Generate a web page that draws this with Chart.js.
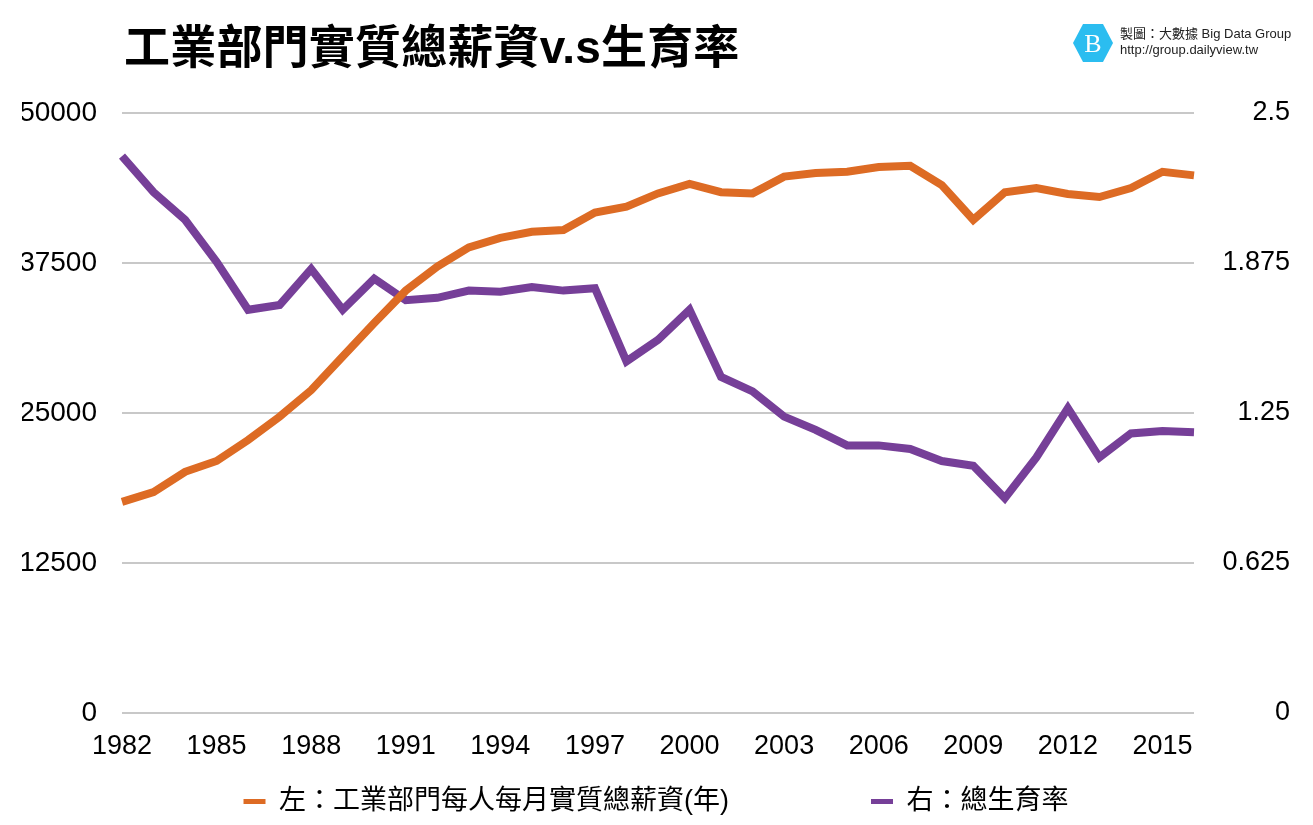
<!DOCTYPE html>
<html>
<head>
<meta charset="utf-8">
<script src="https://cdn.jsdelivr.net/npm/chart.js@4.4.1/dist/chart.umd.min.js"></script>
<style>
  html, body { margin: 0; padding: 0; background: #fff; }
  #wrap { position: relative; width: 1313px; height: 825px; }
  #title {
    position: absolute; left: 124px; top: 10px;
    font-family: 'Liberation Sans', 'Noto Sans CJK TC', sans-serif;
    font-weight: bold; font-size: 46px; letter-spacing: 0.2px; color: #000; white-space: nowrap;
  }
  #logo { position: absolute; left: 1072px; top: 23px; }
  #credit {
    position: absolute; left: 1120px; top: 26px;
    font-family: 'Liberation Sans', 'Noto Sans CJK TC', sans-serif;
    font-size: 13px; line-height: 16px; color: #222; white-space: nowrap;
  }
</style>
</head>
<body>
<div id="wrap">
  <canvas id="chart" width="1313" height="825"></canvas>
  <div id="title">工業部門實質總薪資v.s生育率</div>
  <svg id="logo" width="42" height="40" viewBox="0 0 42 40">
    <polygon points="1,20 11,1 31,1 41,20 31,39 11,39" fill="#2bbdf0"/>
    <text x="21" y="29" text-anchor="middle" font-family="Liberation Serif, serif" font-size="26" fill="#fff">B</text>
  </svg>
  <div id="credit">製圖：大數據 Big Data Group<br>http://group.dailyview.tw</div>
</div>
<script>
// years on x axis
const years = [1982,1983,1984,1985,1986,1987,1988,1989,1990,1991,1992,1993,1994,1995,1996,1997,1998,1999,
               2000,2001,2002,2003,2004,2005,2006,2007,2008,2009,2010,2011,2012,2013,2014,2015,2016];

// left axis: real monthly total wage, industry sector
const wages = [17600,18400,20100,21000,22750,24700,26900,29700,32500,35200,37200,38800,39600,40100,40250,41700,42200,
               43300,44100,43400,43300,44700,45000,45100,45500,45600,44000,41100,43400,43750,43250,43000,43750,45100,44800];

// right axis: total fertility rate
const fertility = [2.32,2.17,2.055,1.88,1.68,1.70,1.85,1.68,1.81,1.72,1.73,1.76,1.755,1.775,1.76,1.77,1.465,1.555,
                   1.68,1.40,1.34,1.235,1.18,1.115,1.115,1.10,1.05,1.03,0.895,1.065,1.27,1.065,1.165,1.175,1.17];

const wageLabel = '左：工業部門每人每月實質總薪資(年)';
const fertLabel = '右：總生育率';

const FONT = "'Liberation Sans', 'Noto Sans CJK TC', sans-serif";
const ORANGE = '#dd6b24';
const PURPLE = '#763f98';
const GRID = '#c8c8c8';

const ctx = document.getElementById('chart').getContext('2d');
new Chart(ctx, {
  type: 'line',
  data: {
    labels: years,
    datasets: [
      {
        label: wageLabel,
        data: wages,
        yAxisID: 'yL',
        borderColor: ORANGE,
        backgroundColor: ORANGE,
        borderWidth: 8,
        pointRadius: 0,
        tension: 0,
        borderJoinStyle: 'miter'
      },
      {
        label: fertLabel,
        data: fertility,
        yAxisID: 'yR',
        borderColor: PURPLE,
        backgroundColor: PURPLE,
        borderWidth: 8,
        pointRadius: 0,
        tension: 0,
        borderJoinStyle: 'miter'
      }
    ]
  },
  options: {
    responsive: false,
    animation: false,
    layout: { padding: { left: 22, right: 23, top: 113, bottom: 0 } },
    plugins: {
      tooltip: { enabled: false },
      legend: {
        position: 'bottom',
        labels: {
          font: { family: FONT, size: 27 },
          color: '#000',
          boxWidth: 22,
          boxHeight: 5,
          padding: 7,
          generateLabels(chart) {
            const items = Chart.defaults.plugins.legend.labels.generateLabels(chart);
            items.forEach((it, i) => {
              it.lineWidth = 0;
              it.strokeStyle = 'rgba(0,0,0,0)';
              it.fillStyle = chart.data.datasets[i].borderColor;
              // widen the gap between the two items
              if (i === 0) it.text = it.text + '\u3000\u3000\u3000\u3000\u3000';
            });
            return items;
          }
        }
      }
    },
    scales: {
      x: {
        type: 'category',
        offset: false,
        grid: { display: false },
        border: { display: false },
        afterFit(scale) { scale.height = 68; },
        ticks: {
          autoSkip: false,
          maxRotation: 0,
          padding: 9,
          color: '#000',
          font: { family: FONT, size: 27 },
          callback(value, index) {
            return index % 3 === 0 ? String(years[index]) : '';
          }
        }
      },
      yL: {
        position: 'left',
        min: 0,
        max: 50000,
        grid: { color: GRID, lineWidth: 2, drawTicks: false },
        border: { display: false },
        afterFit(scale) { scale.width = 100; },
        ticks: {
          stepSize: 12500,
          padding: 25,
          color: '#000',
          font: { family: FONT, size: 28 },
          callback: v => String(v)
        }
      },
      yR: {
        position: 'right',
        min: 0,
        max: 2.5,
        grid: { display: false },
        border: { display: false },
        afterFit(scale) { scale.width = 96; },
        ticks: {
          stepSize: 0.625,
          padding: 28,
          crossAlign: 'far',
          color: '#000',
          font: { family: FONT, size: 27 },
          callback: v => String(v)
        }
      }
    }
  }
});
</script>
</body>
</html>
